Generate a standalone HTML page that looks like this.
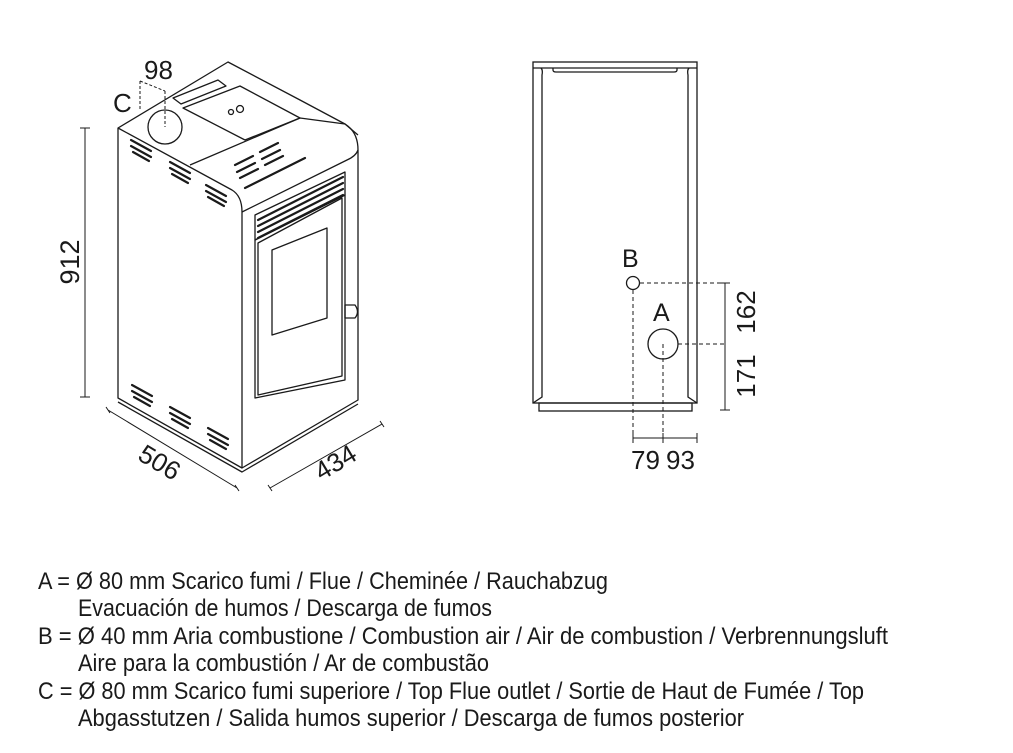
<!DOCTYPE html>
<html><head><meta charset="utf-8"><style>
html,body{margin:0;padding:0;background:#fff;}
svg{display:block;}
text{font-family:"Liberation Sans",sans-serif;fill:#1a1a1a;}
</style></head><body>
<svg width="1013" height="753" viewBox="0 0 1013 753" xmlns="http://www.w3.org/2000/svg">
<g fill="none" stroke="#1a1a1a" stroke-width="1.3" stroke-linejoin="round">
 <path d="M118,128 L228,62 L300,100 L345,124 Q358,132 358,150 L358,400 L242,468 L118,398 Z" fill="#fff"/>
 <path d="M118,128 L232,190 Q242,196 242,212 L242,468"/>
 <path d="M242,212 L347,160 Q356,156 358,150"/>
 <path d="M183,108 L240,86 L300,118 L245,140 Z"/>
 <path d="M173,98 L218,80 L226,86 L181,104 Z"/>
 <path d="M190,165 L300,118 L345,124 L358,135" />
 <circle cx="165" cy="127" r="17"/>
 <circle cx="240" cy="109" r="3.5"/><circle cx="231" cy="112" r="2.5"/>
 <path d="M255,215 L345,172 L345,195 L255,240 Z"/>
 <path d="M255,240 L345,195 L345,380 L255,398 Z"/>
 <path d="M258,243 L342,198 L342,376 L258,395 Z"/>
 <path d="M272,250 L327,228 L327,318 L272,335 Z"/>
 <path d="M345,305 L355,305 Q360,312 355,318 L345,318 Z"/>
 <path d="M118,402 L242,472 L358,404"/>
</g>
<g stroke="#1a1a1a" stroke-width="2.2" stroke-linecap="round">
 <path d="M131,140 l20,11 M131,146 l20,11 M133,152 l16,9"/>
 <path d="M170,162 l20,11 M170,168 l20,11 M172,174 l16,9"/>
 <path d="M206,185 l20,11 M206,191 l20,11 M208,197 l16,9"/>
 <path d="M132,385 l20,11 M132,391 l20,11 M134,397 l16,9"/>
 <path d="M170,407 l20,11 M170,413 l20,11 M172,419 l16,9"/>
 <path d="M208,428 l20,11 M208,434 l20,11 M210,440 l16,9"/>
 <path d="M235,165 l18,-9 M260,152 l18,-9 M237,172 l18,-9 M262,159 l18,-9 M240,178 l18,-9 M265,165 l18,-9 M245,188 l60,-30"/>
 <path d="M258,220 l85,-43 M258,226 l85,-43 M258,232 l85,-43 M258,238 l85,-43"/>
</g>
<g stroke="#1a1a1a" stroke-width="1" fill="none">
 <path d="M140,81 L140,110 M165,91 L165,127 M140,81 L165,91" stroke-dasharray="3,2"/>
 <path d="M85,128 L85,397 M80,128 L90,128 M80,397 L90,397"/>
 <path d="M108,410 L237,488 M106,407 L110,413 M235,485 L239,491"/>
 <path d="M270,488 L382,424 M268,485 L272,491 M380,421 L384,427"/>
</g>
<text x="144" y="79" font-size="26">98</text>
<text x="113" y="112" font-size="26">C</text>
<text transform="translate(79,262) rotate(-90)" font-size="27" text-anchor="middle">912</text>
<text transform="translate(155,470) rotate(31)" font-size="26" text-anchor="middle">506</text>
<text transform="translate(340,470) rotate(-31)" font-size="26" text-anchor="middle">434</text>

<g fill="none" stroke="#1a1a1a" stroke-width="1.3">
 <rect x="533" y="62" width="164" height="341" fill="#fff"/>
 <path d="M533,68 L697,68"/>
 <path d="M553,68 L553,70 Q553,72 556,72 L674,72 Q677,72 677,70 L677,68"/>
 <path d="M541,68 Q543,70 542,75 L542,397 L533,403"/>
 <path d="M689,68 Q687,70 688,75 L688,397 L697,403"/>
 <rect x="539" y="403" width="153" height="8"/>
 <circle cx="633" cy="283" r="6.5"/>
 <circle cx="663" cy="344" r="15"/>
</g>
<g stroke="#1a1a1a" stroke-width="1" fill="none">
 <path d="M640,283 L725,283 M678,344 L725,344 M633,290 L633,438 M663,344 L663,438" stroke-dasharray="4,3"/>
 <path d="M725,283 L725,410 M720,283 L730,283 M720,410 L730,410"/>
 <path d="M633,438 L697,438 M633,433 L633,443 M663,433 L663,443 M697,433 L697,443"/>
</g>
<text x="622" y="267" font-size="25">B</text>
<text x="653" y="321" font-size="25">A</text>
<text transform="translate(755,312) rotate(-90)" font-size="26" text-anchor="middle">162</text>
<text transform="translate(755,376) rotate(-90)" font-size="26" text-anchor="middle">171</text>
<text x="631" y="469" font-size="26">79</text>
<text x="666" y="469" font-size="26">93</text>

<g font-size="24" fill="#1a1a1a">
<text x="38" y="589" textLength="570" lengthAdjust="spacingAndGlyphs">A = Ø 80 mm  Scarico fumi / Flue / Cheminée / Rauchabzug</text>
<text x="78" y="616" textLength="414" lengthAdjust="spacingAndGlyphs">Evacuación de humos / Descarga de fumos</text>
<text x="38" y="644" textLength="850" lengthAdjust="spacingAndGlyphs">B = Ø 40 mm  Aria combustione / Combustion air / Air de combustion / Verbrennungsluft</text>
<text x="78" y="671" textLength="411" lengthAdjust="spacingAndGlyphs">Aire para la combustión / Ar de combustão</text>
<text x="38" y="699" textLength="826" lengthAdjust="spacingAndGlyphs">C = Ø 80 mm  Scarico fumi superiore / Top Flue outlet / Sortie de Haut de Fumée / Top</text>
<text x="78" y="726" textLength="666" lengthAdjust="spacingAndGlyphs">Abgasstutzen / Salida humos superior / Descarga de fumos posterior</text>
</g>
</svg>
</body></html>
